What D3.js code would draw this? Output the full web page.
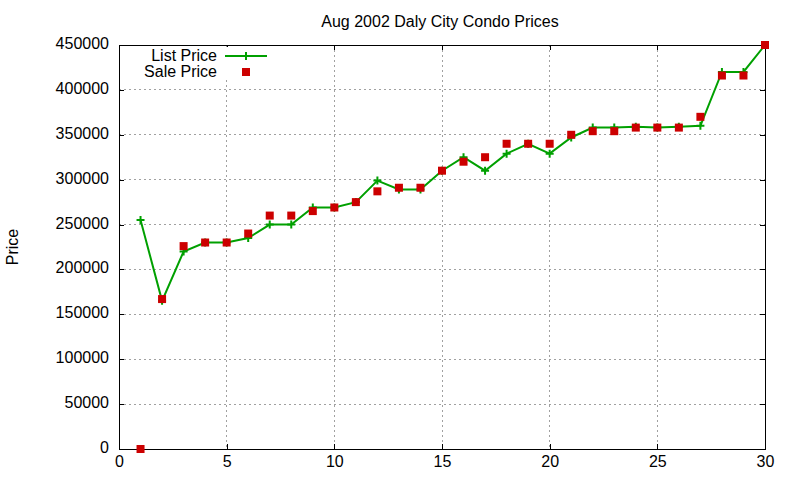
<!DOCTYPE html>
<html>
<head>
<meta charset="utf-8">
<script src="https://cdn.jsdelivr.net/npm/d3@7"></script>
<style>
  body { margin: 0; background: #fff; }
  text { font-family: "Liberation Sans", Arial, sans-serif; font-size: 16px; fill: #000; }
</style>
</head>
<body>
<div id="chart"></div>
<script>
var WIDTH = 800
var HEIGHT = 480
var margin = { top: 45, right: 35, bottom: 31, left: 119 }

// data
var days = d3.range(1, 31)
var listPrice = [255000, 165000, 220000, 230000, 230000, 235000, 250000, 250000, 269000, 269000,
                 275000, 299000, 289000, 289000, 310000, 325000, 310000, 329000, 340000, 329000,
                 347000, 358000, 358000, 359000, 358000, 359000, 360000, 420000, 420000, 450000]
var salePrice = [0, 167000, 226000, 230000, 230000, 240000, 260000, 260000, 265000, 269000,
                 275000, 287000, 291000, 291000, 310000, 320000, 325000, 340000, 340000, 340000,
                 350000, 354000, 354000, 358000, 358000, 358000, 370000, 416000, 416000, 450000]
var xTicks = [0, 5, 10, 15, 20, 25, 30]
var yTicks = d3.range(0, 450001, 50000)

var GREEN = '#00a000'
var RED = '#cc0000'

var w = WIDTH - margin.left - margin.right
var h = HEIGHT - margin.top - margin.bottom

var svg = d3.select('#chart').append('svg')
    .attr('width', WIDTH)
    .attr('height', HEIGHT)

var x = d3.scaleLinear().domain([0, 30]).range([0, w])
var y = d3.scaleLinear().domain([0, 450000]).range([h, 0])

var g = svg.append('g').attr('transform', `translate(${margin.left},${margin.top})`)

// grid
var grid = g.append('g').attr('class', 'grid')
    .style('stroke', '#a0a0a0')
    .style('stroke-width', 1)
    .style('stroke-dasharray', '2,3')
    .attr('shape-rendering', 'crispEdges')
grid.selectAll('line.gx')
    .data(xTicks.slice(1, -1))
    .enter().append('line')
    .attr('x1', (d) => x(d)).attr('x2', (d) => x(d))
    .attr('y1', 0).attr('y2', h)
grid.selectAll('line.gy')
    .data(yTicks.slice(1, -1))
    .enter().append('line')
    .attr('x1', 0).attr('x2', w)
    .attr('y1', (d) => y(d)).attr('y2', (d) => y(d))

// axes, ticks pointing inward and mirrored
var bottom = g.append('g').attr('transform', `translate(0,${h})`)
    .call(d3.axisBottom(x).tickValues(xTicks).tickSize(-5).tickSizeOuter(0).tickPadding(7))
var left = g.append('g')
    .call(d3.axisLeft(y).tickValues(yTicks).tickSize(-5).tickSizeOuter(0).tickPadding(10).tickFormat(d3.format('d')))
g.append('g')
    .call(d3.axisTop(x).tickValues(xTicks).tickSize(-5).tickSizeOuter(0).tickFormat(''))
g.append('g').attr('transform', `translate(${w},0)`)
    .call(d3.axisRight(y).tickValues(yTicks).tickSize(-5).tickSizeOuter(0).tickFormat(''))

g.selectAll('.domain').remove()
g.selectAll('.tick line').attr('stroke', '#000').attr('shape-rendering', 'crispEdges')
g.selectAll('.tick text').style('font-family', '"Liberation Sans", Arial, sans-serif').style('font-size', '16px')
left.selectAll('.tick text').attr('dy', '0.22em')
bottom.selectAll('.tick text').attr('dy', '0.71em')

g.append('rect')
    .attr('width', w).attr('height', h)
    .attr('fill', 'none').attr('stroke', '#000').attr('stroke-width', 1)
    .attr('shape-rendering', 'crispEdges')

// list price line + markers
var line = d3.line()
    .x((d, i) => x(days[i]))
    .y((d) => y(d))

g.append('path')
    .datum(listPrice)
    .attr('d', line)
    .attr('fill', 'none')
    .attr('stroke', GREEN)
    .attr('stroke-width', 2)

var plus = 'M-4,0H4M0,-4V4'
g.selectAll('path.plus')
    .data(listPrice)
    .enter().append('path')
    .attr('class', 'plus')
    .attr('d', plus)
    .attr('transform', (d, i) => `translate(${x(days[i])},${y(d)})`)
    .attr('stroke', GREEN)
    .attr('stroke-width', 2)

// sale price squares
g.selectAll('rect.sale')
    .data(salePrice)
    .enter().append('rect')
    .attr('class', 'sale')
    .attr('x', (d, i) => x(days[i]) - 4)
    .attr('y', (d) => y(d) - 4)
    .attr('width', 8)
    .attr('height', 8)
    .attr('fill', RED)

// legend
var legend = svg.append('g')
legend.append('rect')
    .attr('x', 140).attr('y', 47).attr('width', 132).attr('height', 32)
    .attr('fill', '#fff')
legend.append('text')
    .attr('x', 217).attr('y', 61)
    .attr('text-anchor', 'end')
    .text('List Price')
legend.append('line')
    .attr('x1', 225).attr('x2', 267).attr('y1', 56).attr('y2', 56)
    .attr('stroke', GREEN).attr('stroke-width', 2)
legend.append('path')
    .attr('d', plus)
    .attr('transform', 'translate(246,56)')
    .attr('stroke', GREEN).attr('stroke-width', 2)
legend.append('text')
    .attr('x', 217).attr('y', 77)
    .attr('text-anchor', 'end')
    .text('Sale Price')
legend.append('rect')
    .attr('x', 242).attr('y', 68).attr('width', 8).attr('height', 8)
    .attr('fill', RED)

// title and y label
svg.append('text')
    .attr('x', margin.left + w / 2 - 2).attr('y', 27)
    .attr('text-anchor', 'middle')
    .text('Aug 2002 Daly City Condo Prices')

svg.append('text')
    .attr('transform', `translate(18,${margin.top + h / 2})rotate(-90)`)
    .attr('text-anchor', 'middle')
    .text('Price')
</script>
</body>
</html>
